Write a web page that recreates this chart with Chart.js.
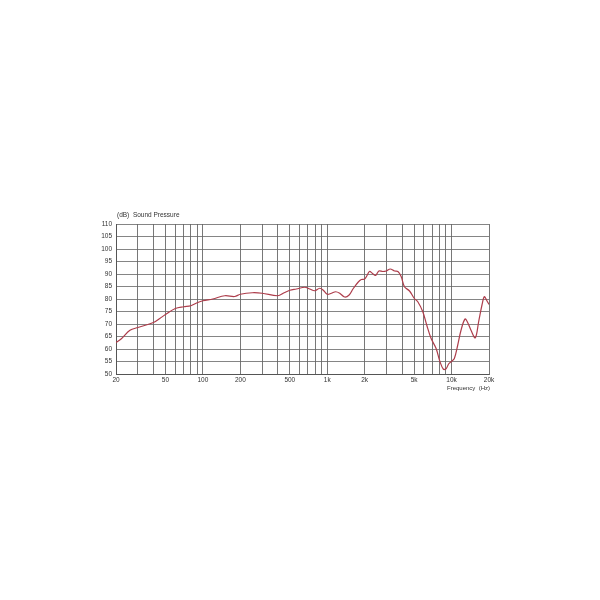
<!DOCTYPE html>
<html>
<head>
<meta charset="utf-8">
<script src="https://cdn.jsdelivr.net/npm/chart.js@4/dist/chart.umd.min.js"></script>
<style>
html,body{margin:0;padding:0;background:#fff;}
#wrap{position:absolute;left:0;top:0;width:600px;height:600px;}
</style>
</head>
<body>
<div id="wrap"><canvas id="c" width="600" height="600"></canvas></div>
<script>
const frequencies = [20, 22.2, 25.9, 30, 40, 45, 50, 60, 70, 80, 90, 100, 120, 150, 180, 200, 250, 300, 400, 450, 500, 565, 660, 723, 793, 870, 925, 1000, 1080, 1170, 1260, 1380, 1500, 1610, 1770, 1880, 2000, 2090, 2190, 2300, 2450, 2600, 2800, 2980, 3210, 3480, 3700, 3930, 4180, 4590, 5000, 5350, 5870, 6320, 6850, 7510, 8080, 8600, 9030, 9490, 10000, 10530, 11200, 11910, 12830, 13470, 14330, 15520, 16510, 17560, 18330, 19140, 20000];
const soundPressure = [62.6, 64.2, 67.5, 68.6, 70.6, 72.2, 73.8, 76.2, 76.9, 77.3, 78.5, 79.3, 80.0, 81.3, 81.0, 81.9, 82.5, 82.3, 81.3, 82.5, 83.5, 84.0, 84.7, 84.0, 83.3, 84.3, 83.6, 81.9, 82.3, 82.9, 82.3, 80.8, 81.6, 84.0, 86.7, 87.8, 88.0, 89.4, 91.0, 90.3, 89.4, 91.2, 91.0, 91.2, 92.0, 91.2, 91.0, 89.0, 84.9, 83.2, 80.3, 78.9, 74.9, 69.5, 64.2, 60.2, 54.8, 51.9, 52.1, 54.1, 55.1, 56.2, 61.5, 67.5, 72.0, 70.6, 67.5, 64.5, 70.9, 77.6, 80.9, 79.5, 77.8];
const gridFrequencies = [20,30,40,50,60,70,80,90,100,200,300,400,500,600,700,800,900,1000,2000,3000,4000,5000,6000,7000,8000,9000,10000,20000];
const labelledFrequencies = {20:'20',50:'50',100:'100',200:'200',500:'500',1000:'1k',2000:'2k',5000:'5k',10000:'10k',20000:'20k'};
const yTitle = '(dB)  Sound Pressure';
const xTitle = 'Frequency  (Hz)';

const FONT = '"Liberation Sans", Arial, sans-serif';

const textPlugin = {
  id: 'texts',
  afterDraw(chart) {
    const ctx = chart.ctx, a = chart.chartArea;
    ctx.save();
    ctx.fillStyle = '#333';
    ctx.font = '6.5px ' + FONT;
    ctx.textBaseline = 'alphabetic';
    ctx.textAlign = 'left';
    ctx.fillText(yTitle, a.left + 1, a.top - 7);
    ctx.font = '6px ' + FONT;
    ctx.textAlign = 'right';
    ctx.fillText(xTitle, a.right + 1, a.bottom + 16);
    ctx.restore();
  }
};

new Chart(document.getElementById('c'), {
  type: 'line',
  data: {
    datasets: [{
      data: frequencies.map((f, i) => ({x: f, y: soundPressure[i]})),
      borderColor: '#ad3d4b',
      borderWidth: 1.2,
      pointRadius: 0,
      tension: 0.35,
      fill: false
    }]
  },
  options: {
    responsive: false,
    animation: false,
    devicePixelRatio: 1,
    layout: {padding: {left: 86, right: 111, top: 224, bottom: 212}},
    plugins: {legend: {display: false}, tooltip: {enabled: false}},
    scales: {
      x: {
        type: 'logarithmic',
        min: 20, max: 20000,
        afterBuildTicks(scale) { scale.ticks = gridFrequencies.map(v => ({value: v})); },
        afterFit(scale) { scale.height = 14; },
        ticks: {
          autoSkip: false, maxRotation: 0, padding: 2,
          color: '#333', font: {size: 6.5, family: FONT},
          callback(v) { return labelledFrequencies[v] || ''; }
        },
        grid: {color: '#555', lineWidth: 0.8, drawTicks: false},
        border: {color: '#555', width: 1}
      },
      y: {
        min: 50, max: 110,
        afterFit(scale) { scale.width = 30; },
        ticks: {stepSize: 5, padding: 4, color: '#333', font: {size: 6.5, family: FONT}},
        grid: {color: '#666', lineWidth: 0.8, drawTicks: false},
        border: {color: '#555', width: 1}
      }
    }
  },
  plugins: [textPlugin]
});
</script>
</body>
</html>
